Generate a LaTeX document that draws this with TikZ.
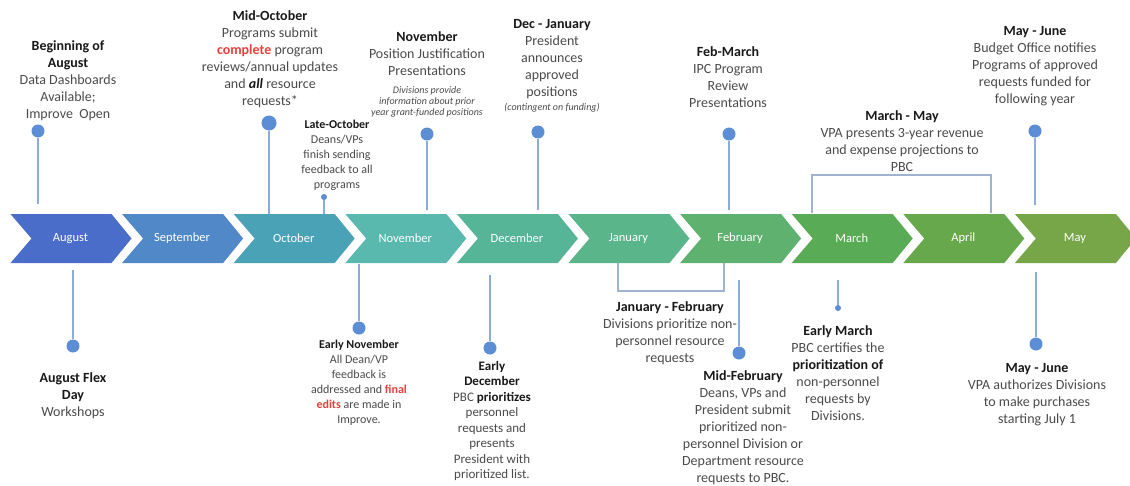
\documentclass[tikz,border=0pt]{standalone}
\usepackage{fontspec}
\setmainfont{Carlito}
\definecolor{c0}{RGB}{74,109,201}
\definecolor{c1}{RGB}{80,136,200}
\definecolor{c2}{RGB}{74,162,183}
\definecolor{c3}{RGB}{90,185,175}
\definecolor{c4}{RGB}{86,181,151}
\definecolor{c5}{RGB}{91,181,138}
\definecolor{c6}{RGB}{94,177,111}
\definecolor{c7}{RGB}{90,171,86}
\definecolor{c8}{RGB}{104,168,76}
\definecolor{c9}{RGB}{118,166,72}
\definecolor{txtc}{RGB}{75,75,75}
\definecolor{hdc}{RGB}{25,25,25}
\definecolor{redt}{RGB}{232,64,60}
\definecolor{dotc}{RGB}{91,142,212}
\definecolor{linec}{RGB}{140,173,216}
\definecolor{brkc}{RGB}{160,178,204}
\newcommand\evhead[1]{{\color{hdc}\bfseries #1}}
\newcommand\evred[1]{{\color{redt}\bfseries #1}}
\begin{document}
\begin{tikzpicture}[x=1pt,y=-1pt,
  month/.style={text=white, font=\fontsize{12.5}{15}\selectfont, inner sep=0},
  evtxt/.style={align=center, inner sep=0, anchor=north, text=txtc, font=\fontsize{14}{17}\selectfont},
  evsmall/.style={align=center, inner sep=0, anchor=north, text=txtc, font=\fontsize{12}{15}\selectfont},
  evmid/.style={align=center, inner sep=0, anchor=north, text=txtc, font=\fontsize{13}{15.5}\selectfont},
  evtiny/.style={align=center, inner sep=0, anchor=north, text=txtc, font=\fontsize{10}{11}\selectfont\itshape},
  dot/.style={circle, fill=dotc, inner sep=0, minimum size=13pt},
  sdot/.style={circle, fill=dotc, inner sep=0, minimum size=6pt},
  conn/.style={draw=linec, line width=1.3pt},
  brk/.style={draw=brkc, line width=1.1pt}]
\clip (0,0) rectangle (1130,485);
\fill[white] (0,0) rectangle (1130,485);
% chevrons
\foreach \i/\m in {0/August,1/September,2/October,3/November,4/December,5/January,6/February,7/March,8/April,9/May}{
  \pgfmathsetmacro\xo{10.5+111.6*\i}
  \fill[c\i] (\xo,214) -- ++(101,0) -- ++(20,24.5) -- ++(-20,24.5) -- ++(-101,0) -- ++(21,-24.5) -- cycle;
  \node[month] (m\i) at (\xo+60,238.5) {\m};
}
% ---- top events ----
\node[evtxt] (ev1) at (68,40) {\evhead{Beginning of}\\\evhead{August}\\Data Dashboards\\Available;\\Improve\ \ Open};
\node[dot] (d1) at (38,131) {};
\coordinate (t1) at (38,204);
\draw[conn] (d1) -- (t1);

\node[evtxt] (ev2) at (270,10) {\evhead{Mid-October}\\Programs submit\\\evred{complete} program\\reviews/annual updates\\and {\color{hdc}\bfseries\itshape all} resource\\requests*};
\node[dot, minimum size=15pt] (d2) at (269,123) {};
\coordinate (t2) at (269,214);
\draw[conn] (d2) -- (t2);

\node[evsmall] (ev3) at (337,120) {\evhead{Late-October}\\Deans/VPs\\finish sending\\feedback to all\\programs};
\node[sdot] (d3) at (324,197) {};
\coordinate (t3) at (324,214);
\draw[conn] (d3) -- (t3);

\node[evtxt] (ev4) at (427,31) {\evhead{November}\\Position Justification\\Presentations};
\node[evtiny] (ev4n) at (427,86) {Divisions provide\\information about prior\\year grant-funded positions};
\node[dot] (d4) at (427,134) {};
\coordinate (t4) at (427,210);
\draw[conn] (d4) -- (t4);

\node[evtxt] (ev5) at (552,19) {\evhead{Dec - January}\\President\\announces\\approved\\positions};
\node[evtiny] (ev5n) at (552,103) {(contingent on funding)};
\node[dot] (d5) at (538,132) {};
\coordinate (t5) at (538,210);
\draw[conn] (d5) -- (t5);

\node[evtxt] (ev6) at (728,46) {\evhead{Feb-March}\\IPC Program\\Review\\Presentations};
\node[dot] (d6) at (729,134) {};
\coordinate (t6) at (729,210);
\draw[conn] (d6) -- (t6);

\node[evtxt] (ev7) at (902,110) {\evhead{March - May}\\VPA presents 3-year revenue\\and expense projections to\\PBC};
\coordinate (b7a) at (812,213);
\coordinate (b7t) at (900,175);
\coordinate (b7b) at (991,213);
\draw[brk] (b7a) |- (b7t) -| (b7b);

\node[evtxt] (ev8) at (1035,26) {\evhead{May - June}\\Budget Office notifies\\Programs of approved\\requests funded for\\following year};
\node[dot] (d8) at (1035,131) {};
\coordinate (t8) at (1035,205);
\draw[conn] (d8) -- (t8);

% ---- bottom events ----
\node[evtxt] (ev9) at (73,372) {\evhead{August Flex}\\\evhead{Day}\\Workshops};
\node[dot] (d9) at (73,346) {};
\coordinate (t9) at (73,270);
\draw[conn] (t9) -- (d9);

\node[evsmall] (ev10) at (359,340) {\evhead{Early November}\\All Dean/VP\\feedback is\\addressed and \evred{final}\\\evred{edits} are made in\\Improve.};
\node[dot] (d10) at (359,328) {};
\coordinate (t10) at (359,264);
\draw[conn] (t10) -- (d10);

\node[evmid] (ev11) at (492,361) {\evhead{Early}\\\evhead{December}\\PBC \evhead{prioritizes}\\personnel\\requests and\\presents\\President with\\prioritized list.};
\node[dot] (d11) at (490,348) {};
\coordinate (t11) at (490,275);
\draw[conn] (t11) -- (d11);

\node[evtxt] (ev12) at (670,301) {\evhead{January - February}\\Divisions prioritize non-\\personnel resource\\requests};
\coordinate (b12a) at (618,263);
\coordinate (b12t) at (670,291);
\coordinate (b12b) at (724,263);
\draw[brk] (b12a) |- (b12t) -| (b12b);

\node[evtxt] (ev13) at (743,370) {\evhead{Mid-February}\\Deans, VPs and\\President submit\\prioritized non-\\personnel Division or\\Department resource\\requests to PBC.};
\node[dot] (d13) at (739,353) {};
\coordinate (t13) at (739,280);
\draw[conn] (t13) -- (d13);

\node[evtxt] (ev14) at (838,325) {\evhead{Early March}\\PBC certifies the\\\evhead{prioritization of}\\non-personnel\\requests by\\Divisions.};
\node[sdot] (d14) at (838,308) {};
\coordinate (t14) at (838,280);
\draw[conn] (t14) -- (d14);

\node[evtxt] (ev15) at (1037,363) {\evhead{May - June}\\VPA authorizes Divisions\\to make purchases\\starting July 1};
\node[dot] (d15) at (1036,344) {};
\coordinate (t15) at (1036,272);
\draw[conn] (t15) -- (d15);
\end{tikzpicture}
\end{document}
